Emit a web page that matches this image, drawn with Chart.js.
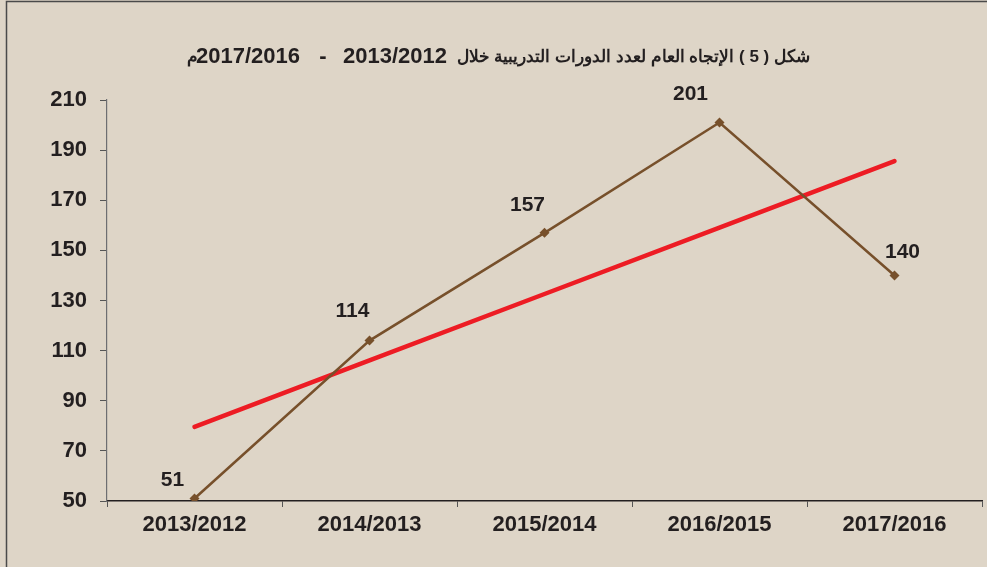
<!DOCTYPE html>
<html>
<head>
<meta charset="utf-8">
<script src="https://cdn.jsdelivr.net/npm/chart.js@4"></script>
<style>
    html, body { margin: 0; padding: 0; background: #ded5c7; }
    #wrap { width: 987px; height: 567px; }
</style>
</head>
<body>
<div id="wrap"><canvas id="myChart" width="987" height="567"></canvas></div>
<script>
// DATOS
const categories = ['2013/2012', '2014/2013', '2015/2014', '2016/2015', '2017/2016'];
const courses = [51, 114, 157, 201, 140];
const trend = [79.6, 106.1, 132.6, 159.1, 185.6]; // linea de tendencia
const yTicks = [50, 70, 90, 110, 130, 150, 170, 190, 210];
const titleArabic = 'شكل ( 5 ) الإتجاه العام لعدد الدورات التدريبية خلال';
const titleFrom = '2013/2012';
const titleTo = '2017/2016';
const titleSuffix = 'م';

const FONT = '"Liberation Sans", Arial, sans-serif';
const TEXT = '#231f20';

// fondo, marco y titulo
const framePlugin = {
    id: 'frame',
    beforeDraw(chart) {
        const c = chart.ctx;
        c.save();
        c.fillStyle = '#ded5c7';
        c.fillRect(0, 0, chart.width, chart.height);
        c.strokeStyle = '#4a4a4a';
        c.lineWidth = 1.5;
        c.strokeRect(6.5, 1.5, chart.width + 10, chart.height + 10);
        c.restore();
    },
    afterDraw(chart) {
        const c = chart.ctx;
        const y = 57;
        c.save();
        c.fillStyle = TEXT;
        c.textBaseline = 'middle';
        // parte en arabe
        c.direction = 'rtl';
        c.textAlign = 'right';
        c.font = 'bold 17px ' + FONT;
        c.fillText(titleArabic, 810, y);
        c.fillText(titleSuffix, 198, y);
        // numeros
        c.direction = 'ltr';
        c.font = 'bold 22px ' + FONT;
        c.textAlign = 'right';
        c.fillText(titleFrom, 447, y);
        c.fillText(titleTo, 300, y);
        c.textAlign = 'center';
        c.fillText('-', 323, y);
        c.restore();
    }
};

// etiquetas de valores sobre los puntos
const labelsPlugin = {
    id: 'valueLabels',
    afterDatasetsDraw(chart, args, opts) {
        const c = chart.ctx;
        const meta = chart.getDatasetMeta(0);
        c.save();
        c.font = 'bold 21px ' + FONT;
        c.fillStyle = TEXT;
        c.textAlign = 'center';
        c.textBaseline = 'middle';
        meta.data.forEach((pt, i) => {
            const off = opts.offsets[i];
            c.fillText(courses[i], pt.x + off[0], pt.y + off[1]);
        });
        c.restore();
    }
};

const ctx = document.getElementById('myChart').getContext('2d');
const myChart = new Chart(ctx, {
    type: 'line',
    data: {
        labels: categories,
        datasets: [{
            label: 'عدد الدورات',
            data: courses,
            borderColor: '#77502b',
            backgroundColor: '#77502b',
            borderWidth: 2.5,
            pointStyle: 'rectRot',
            pointRadius: 5,
            pointBorderWidth: 0,
            tension: 0
        }, {
            label: 'الاتجاه العام',
            data: trend,
            borderColor: '#ed1c24',
            borderWidth: 4.5,
            borderCapStyle: 'round',
            pointRadius: 0,
            tension: 0
        }]
    },
    options: {
        responsive: false,
        animation: false,
        devicePixelRatio: 1,
        layout: {
            padding: { top: 100, right: 5, left: 0, bottom: 0 }
        },
        plugins: {
            legend: { display: false },
            title: { display: false },
            tooltip: { enabled: false },
            valueLabels: {
                offsets: [[-22, -18], [-17, -29], [-17, -28], [-29, -28], [8, -23]]
            }
        },
        scales: {
            x: {
                offset: true,
                grid: {
                    offset: true,
                    drawOnChartArea: false,
                    drawTicks: true,
                    tickLength: 6,
                    color: '#555'
                },
                border: { color: TEXT, width: 1.5 },
                ticks: {
                    color: TEXT,
                    font: { family: FONT, size: 22, weight: 'bold' },
                    padding: 5,
                    maxRotation: 0
                },
                afterFit(scale) { scale.height = 66; }
            },
            y: {
                min: 50,
                max: 210,
                afterBuildTicks(scale) {
                    scale.ticks = yTicks.map(v => ({ value: v }));
                },
                grid: {
                    drawOnChartArea: false,
                    drawTicks: true,
                    tickLength: 7,
                    color: '#555'
                },
                border: { color: '#6d6e71', width: 1.2 },
                ticks: {
                    color: TEXT,
                    font: { family: FONT, size: 22, weight: 'bold' },
                    padding: 13
                },
                afterFit(scale) { scale.width = 107; }
            }
        }
    },
    plugins: [framePlugin, labelsPlugin]
});
</script>
</body>
</html>
